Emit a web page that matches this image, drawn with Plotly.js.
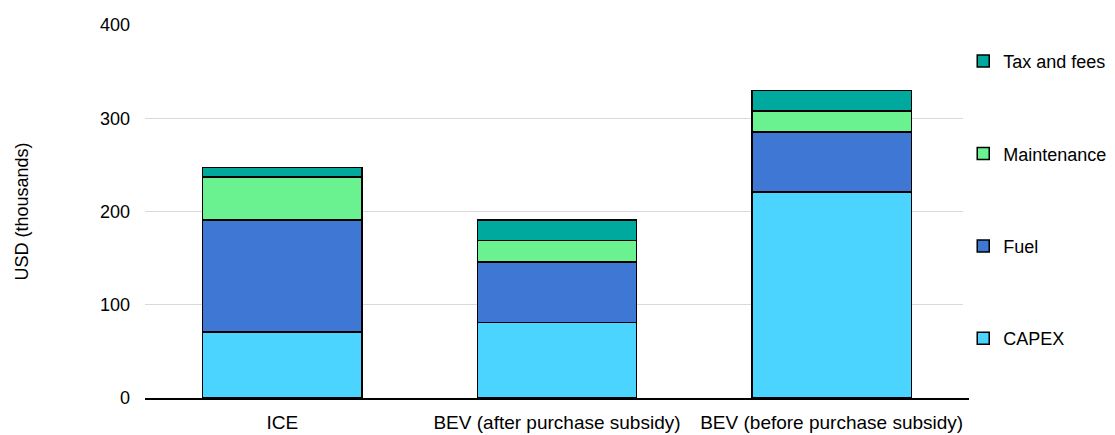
<!DOCTYPE html>
<html>
<head>
<meta charset="utf-8">
<script src="https://cdn.plot.ly/plotly-3.0.1.min.js"></script>
<style>html,body{margin:0;padding:0;background:#fff;}#chart{width:1115px;height:435px;}</style>
</head>
<body>
<div id="chart"></div>
<script>
const categories = ["ICE", "BEV (after purchase subsidy)", "BEV (before purchase subsidy)"];
const capex = [71, 81, 221];
const fuel = [120, 65, 64];
const maintenance = [46, 23, 23];
const taxFees = [10, 22, 22];
const yTicks = [0, 100, 200, 300, 400];

const seriesNames = ["CAPEX", "Fuel", "Maintenance", "Tax and fees"];
const seriesValues = [capex, fuel, maintenance, taxFees];
const seriesColors = ["#4AD4FF", "#3F78D4", "#69F28F", "#00A99D"];

const traces = seriesNames.map((name, i) => ({
  type: "bar",
  name: name,
  x: categories,
  y: seriesValues[i],
  legendgroup: "g" + (seriesNames.length - i),
  legendrank: (seriesNames.length - i) * 10,
  marker: { color: seriesColors[i], line: { color: "#000000", width: 1.5 } },
  hoverinfo: "x+y+name"
}));

const layout = {
  width: 1115,
  height: 435,
  margin: { l: 145, r: 146, t: 25, b: 37, autoexpand: false },
  barmode: "stack",
  bargap: 0.42,
  paper_bgcolor: "#ffffff",
  plot_bgcolor: "#ffffff",
  font: { family: "Liberation Sans, Arial, sans-serif", size: 18, color: "#000000" },
  xaxis: {
    showline: true,
    linecolor: "#000000",
    linewidth: 1.5,
    ticks: "",
    ticklabelstandoff: 7,
    tickfont: { size: 19 }
  },
  yaxis: {
    range: [0, 400],
    tickvals: yTicks,
    showgrid: true,
    gridcolor: "#d9d9d9",
    gridwidth: 1,
    zeroline: false,
    showline: false,
    ticks: "",
    ticklabelstandoff: 14,
    tickfont: { size: 18 },
    title: { text: "USD (thousands)", font: { size: 18 }, standoff: 66 }
  },
  legend: {
    x: 0.993,
    xanchor: "left",
    y: 0.952,
    yanchor: "top",
    traceorder: "grouped",
    tracegroupgap: 66,
    font: { size: 18 },
    itemwidth: 30
  },
  showlegend: true
};

Plotly.newPlot("chart", traces, layout, { displayModeBar: false, staticPlot: true });
</script>
</body>
</html>
